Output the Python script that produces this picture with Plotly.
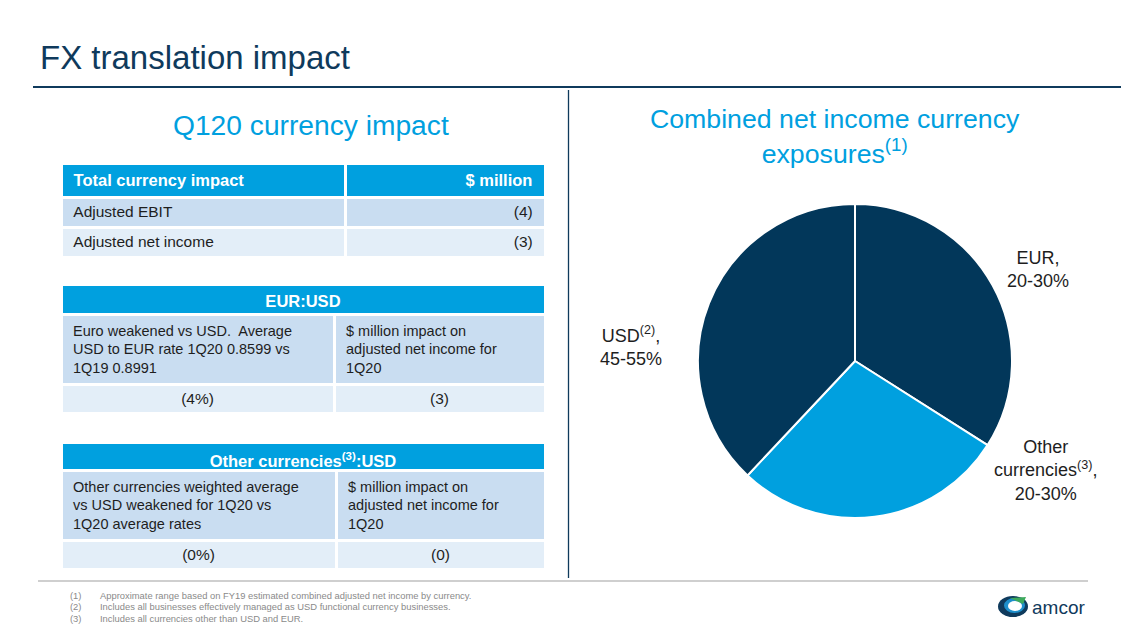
import plotly.graph_objects as go

W, H = 1129, 635
OFF = 8  # page body margin of the rendered html

# ---------------- data ----------------
title = "FX translation impact"
left_heading = "Q120 currency impact"
right_heading = "Combined net income currency<br>exposures<sup>(1)</sup>"

t1_header = ["Total currency impact", "$ million"]
t1_rows = ["Adjusted EBIT", "Adjusted net income"]
t1_values = ["(4)", "(3)"]

t2_title = "EUR:USD"
t2_desc = ["Euro weakened vs USD.  Average<br>USD to EUR rate 1Q20 0.8599 vs<br>1Q19 0.8991",
           "$ million impact on<br>adjusted net income for<br>1Q20"]
t2_values = ["(4%)", "(3)"]

t3_title = "Other currencies<sup>(3)</sup>:USD"
t3_desc = ["Other currencies weighted average<br>vs USD weakened for 1Q20 vs<br>1Q20 average rates",
           "$ million impact on<br>adjusted net income for<br>1Q20"]
t3_values = ["(0%)", "(0)"]

pie_labels = ["EUR", "Other currencies<sup>(3)</sup>", "USD<sup>(2)</sup>"]
pie_values = [34, 28, 38]
pie_ranges = ["20-30%", "20-30%", "45-55%"]

footnote_ids = ["(1)", "(2)", "(3)"]
footnotes = [
    "Approximate range based on FY19 estimated combined adjusted net income by currency.",
    "Includes all businesses effectively managed as USD functional currency businesses.",
    "Includes all currencies other than USD and EUR.",
]

# ---------------- style ----------------
NAVY = "#0F3A5C"
PIE_DARK = "#02375A"
BLUE = "#00A0DF"
ROW1 = "#C9DDF1"
ROW2 = "#E3EEF8"
TXT = "#1E1E1E"
GRAY = "#8A8A8A"
FONT = "Liberation Sans, Arial, sans-serif"
NB = "\u00a0"


def px(x):
    return (x - OFF) / W


def py(y):
    return 1 - (y - OFF) / H


def dom(x0, x1, y0, y1):
    return dict(x=[px(x0), px(x1)], y=[py(y1), py(y0)])


def padl(s):
    return NB + s.replace("<br>", "<br>" + NB)


WHITE_LINE = dict(color="white", width=3)

fig = go.Figure()

# Table 1
fig.add_trace(go.Table(
    domain=dom(61, 545, 163, 262),
    columnwidth=[284, 200],
    header=dict(values=[f"<b>{padl(t1_header[0])}</b>", f"<b>{t1_header[1]}{NB}</b>"], fill_color=BLUE,
                font=dict(color="white", size=16.5, family=FONT), align=["left", "right"],
                height=31, line=WHITE_LINE),
    cells=dict(values=[[padl(r) for r in t1_rows], [v + NB for v in t1_values]],
               fill_color=[[ROW1, ROW2], [ROW1, ROW2]],
               font=dict(color=TXT, size=15.5, family=FONT), align=["left", "right"],
               height=30, line=WHITE_LINE),
))

# Table 2
fig.add_trace(go.Table(
    domain=dom(61, 545, 284, 316),
    header=dict(values=[f"<b>{t2_title}</b>"], fill_color=BLUE,
                font=dict(color="white", size=16.5, family=FONT), align="center",
                height=30, line=WHITE_LINE),
    cells=dict(values=[[]], line=WHITE_LINE),
))
fig.add_trace(go.Table(
    domain=dom(61, 545, 314.5, 420),
    columnwidth=[273, 211],
    header=dict(values=[padl(d) for d in t2_desc], fill_color=ROW1,
                font=dict(color=TXT, size=14.5, family=FONT), align="left",
                height=67, line=WHITE_LINE),
    cells=dict(values=[[v] for v in t2_values], fill_color=ROW2,
               font=dict(color=TXT, size=15.5, family=FONT), align="center",
               height=29, line=WHITE_LINE),
))

# Table 3
fig.add_trace(go.Table(
    domain=dom(61, 545, 442, 473),
    header=dict(values=[f"<b>{t3_title}</b>"], fill_color=BLUE,
                font=dict(color="white", size=16.5, family=FONT), align="center",
                height=30, line=WHITE_LINE),
    cells=dict(values=[[]], line=WHITE_LINE),
))
fig.add_trace(go.Table(
    domain=dom(61, 545, 470.5, 576),
    columnwidth=[275, 209],
    header=dict(values=[padl(d) for d in t3_desc], fill_color=ROW1,
                font=dict(color=TXT, size=14.5, family=FONT), align="left",
                height=68, line=WHITE_LINE),
    cells=dict(values=[[v] for v in t3_values], fill_color=ROW2,
               font=dict(color=TXT, size=15.5, family=FONT), align="center",
               height=29, line=WHITE_LINE),
))

# Pie
fig.add_trace(go.Pie(
    labels=pie_labels, values=pie_values, sort=False, direction="clockwise",
    rotation=0, textinfo="none", hoverinfo="label+percent",
    marker=dict(colors=[PIE_DARK, BLUE, PIE_DARK], line=dict(color="white", width=2)),
    domain=dom(698, 1012, 204, 518), showlegend=False,
))

annotations = []
# title & headings
annotations.append(dict(x=px(38), y=py(58), xanchor="left", yanchor="middle", text=title,
                        showarrow=False, font=dict(size=33, color=NAVY, family=FONT)))
annotations.append(dict(x=px(311), y=py(125), xanchor="center", yanchor="middle", text=left_heading,
                        showarrow=False, font=dict(size=28.2, color=BLUE, family=FONT)))
annotations.append(dict(x=px(835), y=py(136), xanchor="center", yanchor="middle", text=right_heading,
                        showarrow=False, font=dict(size=26.7, color=BLUE, family=FONT)))

# pie labels
label_pos = [(1038, 269), (1045, 470), (631, 346)]
for lab, rng, (lx, ly) in zip(pie_labels, pie_ranges, label_pos):
    txt = lab.replace(" ", "<br>", 1) + ",<br>" + rng
    annotations.append(dict(x=px(lx), y=py(ly), xanchor="center", yanchor="middle", text=txt,
                            showarrow=False, font=dict(size=18, color=TXT, family=FONT)))

# footnotes
for i, (fid, ftxt) in enumerate(zip(footnote_ids, footnotes)):
    yy = 595 + i * 11.5
    annotations.append(dict(x=px(68), y=py(yy), xanchor="left", yanchor="middle", text=fid,
                            showarrow=False, font=dict(size=9.4, color=GRAY, family=FONT)))
    annotations.append(dict(x=px(98), y=py(yy), xanchor="left", yanchor="middle", text=ftxt,
                            showarrow=False, font=dict(size=9.4, color=GRAY, family=FONT)))

# logo text
annotations.append(dict(x=px(1030), y=py(607), xanchor="left", yanchor="middle", text="amcor",
                        showarrow=False, font=dict(size=19, color=NAVY, family=FONT)))

shapes = [
    dict(type="line", xref="paper", yref="paper", x0=px(33), x1=1, y0=py(87), y1=py(87),
         line=dict(color=NAVY, width=2)),
    dict(type="line", xref="paper", yref="paper", x0=px(568.5), x1=px(568.5), y0=py(90), y1=py(578),
         line=dict(color=NAVY, width=1.3)),
    dict(type="line", xref="paper", yref="paper", x0=px(38), x1=px(1088), y0=py(581), y1=py(581),
         line=dict(color="#CFCFCF", width=2)),
    # logo mark
    dict(type="circle", xref="paper", yref="paper", x0=px(998), x1=px(1028), y0=py(617), y1=py(596),
         fillcolor=NAVY, line=dict(width=0)),
    dict(type="circle", xref="paper", yref="paper", x0=px(1004), x1=px(1025), y0=py(613), y1=py(598),
         fillcolor="#1E8FCB", line=dict(width=0)),
    dict(type="circle", xref="paper", yref="paper", x0=px(1008), x1=px(1022), y0=py(611), y1=py(601),
         fillcolor="white", line=dict(width=0)),
    dict(type="path", xref="paper", yref="paper",
         path=f"M {px(1010)},{py(598)} L {px(1026)},{py(597)} L {px(1023)},{py(604)} Z",
         fillcolor="#3DAA5C", line=dict(width=0)),
]

fig.update_layout(
    width=W, height=H, margin=dict(l=0, r=0, t=0, b=0),
    paper_bgcolor="white", plot_bgcolor="white",
    annotations=annotations, shapes=shapes, showlegend=False,
    font=dict(family=FONT),
)

fig.write_html("out.html")
